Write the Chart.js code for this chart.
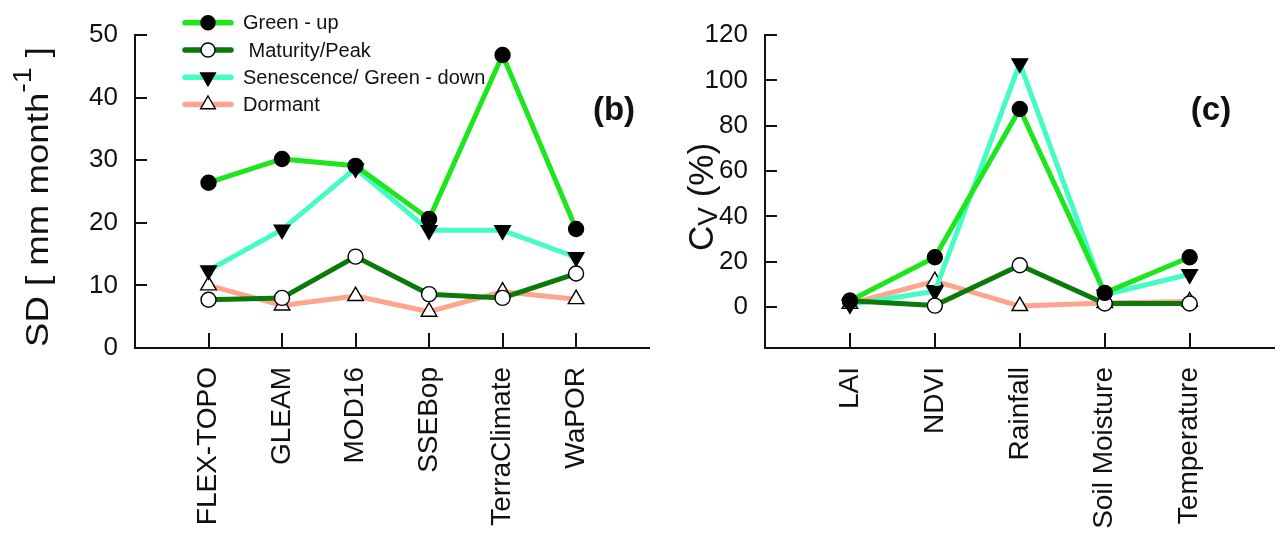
<!DOCTYPE html>
<html><head><meta charset="utf-8">
<script src="https://cdn.jsdelivr.net/npm/chart.js@4.4.0/dist/chart.umd.min.js"></script>
<style>
html,body{margin:0;padding:0;background:#fff;width:1285px;height:539px;overflow:hidden}
#wrapB{position:absolute;left:0;top:0;width:660px;height:539px}
#wrapC{position:absolute;left:640px;top:0;width:645px;height:539px}
canvas{display:block}
</style></head><body>
<div id="wrapB"><canvas id="cb" width="660" height="539"></canvas></div>
<div id="wrapC"><canvas id="cc" width="645" height="539"></canvas></div>
<script>
// ---------- data ----------
const seriesNames = ['Green - up', ' Maturity/Peak', 'Senescence/ Green - down', 'Dormant'];

const productsB   = ['FLEX-TOPO', 'GLEAM', 'MOD16', 'SSEBop', 'TerraClimate', 'WaPOR'];
const greenUpB    = [26.4, 30.2, 29.1, 20.6, 46.8, 19.0];
const maturityB   = [7.7, 8.0, 14.6, 8.6, 8.0, 11.9];
const senescenceB = [12.4, 18.9, 28.7, 18.8, 18.8, 14.5];
const dormantB    = [10.0, 6.8, 8.3, 5.8, 9.0, 7.8];
const yTicksB     = [0, 10, 20, 30, 40, 50];

const driversC    = ['LAI', 'NDVI', 'Rainfall', 'Soil Moisture', 'Temperature'];
const greenUpC    = [2.8, 22.0, 87.4, 6.3, 22.0];
const maturityC   = [2.8, 0.7, 18.5, 1.6, 1.6];
const senescenceC = [1.2, 7.0, 107.5, 5.5, 14.5];
const dormantC    = [1.5, 11.5, 0.5, 1.8, 2.5];
const yTicksC     = [0, 20, 40, 60, 80, 100, 120];

// ---------- styles ----------
const FONT = '"Liberation Sans", Arial, Helvetica, sans-serif';
const INK = '#111';
const styles = [
  {color:'#1ee61e', point:'circle',   fill:'#000', rot:0,   r:7.5},
  {color:'#0a7a0a', point:'circle',   fill:'#fff', rot:0,   r:7.5},
  {color:'#45fcc5', point:'triangle', fill:'#000', rot:180, r:9},
  {color:'#ffa58f', point:'triangle', fill:'#fff', rot:0,   r:9}
];

function ds(i, vals){
  const s = styles[i];
  return {
    label: seriesNames[i],
    data: vals.map((v,k)=>({x:k, y:v})),
    borderColor: s.color, borderWidth: 5, borderJoinStyle:'round',
    backgroundColor: s.fill,
    pointBackgroundColor: s.fill, pointBorderColor:'#000', pointBorderWidth:1.4,
    pointStyle: s.point, pointRotation: s.rot, pointRadius: s.r,
    tension: 0, clip: false
  };
}

function makeOptions(cfg){
  return {
    responsive:false, animation:false, events:[],
    layout:{padding:{top:cfg.top, right:cfg.right, left:0, bottom:0}},
    plugins:{legend:{display:false}, tooltip:{enabled:false}},
    scales:{
      x:{
        type:'linear', min:-1, max:cfg.xmax,
        grid:{display:false, drawTicks:false},
        border:{display:true, color:INK, width:2},
        afterBuildTicks: s => { s.ticks = cfg.cats.map((c,i)=>({value:i})); },
        afterFit: s => { s.height = cfg.xh; },
        ticks:{autoSkip:false, minRotation:90, maxRotation:90, padding:cfg.xpad,
               color:INK, font:{family:FONT, size:cfg.xfs},
               callback: v => cfg.cats[v]}
      },
      y:{
        type:'linear', min:cfg.ymin, max:cfg.ymax,
        grid:{display:false, drawTicks:false},
        border:{display:true, color:INK, width:2},
        afterBuildTicks: s => { s.ticks = cfg.yticks.map(v=>({value:v})); },
        afterFit: s => { s.width = cfg.yw; },
        ticks:{padding:cfg.ypad, color:INK, font:{family:FONT, size:cfg.yfs}}
      }
    }
  };
}

// inward tick marks
const tickMarks = {
  id:'tickMarks',
  beforeDatasetsDraw(chart){
    const {ctx, chartArea:a, scales:{x,y}} = chart;
    ctx.save(); ctx.strokeStyle = INK; ctx.lineWidth = 2;
    y.ticks.forEach(t=>{
      const py = Math.round(y.getPixelForValue(t.value));
      ctx.beginPath(); ctx.moveTo(a.left, py); ctx.lineTo(a.left+12, py); ctx.stroke();
    });
    x.ticks.forEach(t=>{
      const px = Math.round(x.getPixelForValue(t.value));
      ctx.beginPath(); ctx.moveTo(px, a.bottom); ctx.lineTo(px, a.bottom-15); ctx.stroke();
    });
    ctx.restore();
  }
};

function drawMarker(ctx, s, x, y){
  ctx.save();
  ctx.fillStyle = s.fill; ctx.strokeStyle = '#000'; ctx.lineWidth = 1.4;
  ctx.beginPath();
  if (s.point === 'circle'){
    ctx.arc(x, y, s.r, 0, Math.PI*2);
  } else {
    const r = s.r, rot = s.rot*Math.PI/180;
    for (let k=0;k<3;k++){
      const a = rot + k*2*Math.PI/3;
      const px = x + Math.sin(a)*r, py = y - Math.cos(a)*r;
      if (k===0) ctx.moveTo(px,py); else ctx.lineTo(px,py);
    }
    ctx.closePath();
  }
  ctx.fill(); ctx.stroke();
  ctx.restore();
}

function drawRotated(ctx, parts, baseX, startY, targetLen){
  ctx.save();
  ctx.translate(baseX, startY); ctx.rotate(-Math.PI/2);
  let total = 0;
  parts.forEach(p=>{ ctx.font = p.font; p.w = ctx.measureText(p.text).width; total += p.w; });
  if (targetLen) ctx.scale(targetLen/total, 1);
  ctx.fillStyle = INK; ctx.textAlign = 'left'; ctx.textBaseline = 'alphabetic';
  let cx = 0;
  parts.forEach(p=>{ ctx.font = p.font; ctx.fillText(p.text, cx, p.dy||0); cx += p.w; });
  ctx.restore();
}

const decorB = {
  id:'decorB',
  afterDraw(chart){
    const ctx = chart.ctx;
    // legend
    const rows = [22.7, 50, 77.3, 104.5];
    chart.data.datasets.forEach((d,i)=>{
      const s = styles[i], y = rows[i];
      ctx.save();
      ctx.strokeStyle = s.color; ctx.lineWidth = 5.5; ctx.lineCap = 'round';
      ctx.beginPath(); ctx.moveTo(185, y); ctx.lineTo(231, y); ctx.stroke();
      ctx.restore();
      drawMarker(ctx, {...s, r: s.point==='circle' ? 7 : 8.5}, 208, y);
      ctx.save();
      ctx.fillStyle = INK; ctx.font = '20px ' + FONT; ctx.textBaseline = 'middle'; ctx.textAlign = 'left';
      ctx.fillText(d.label, 243, y+1);
      ctx.restore();
    });
    // axis title
    drawRotated(ctx, [
      {text:'SD [ mm month', font:'32px '+FONT},
      {text:'-1', font:'25px '+FONT, dy:-17},
      {text:' ]', font:'32px '+FONT}
    ], 48, 347, 300);
    // panel label
    ctx.save();
    ctx.fillStyle = INK; ctx.font = 'bold 33px ' + FONT; ctx.textAlign = 'center'; ctx.textBaseline = 'middle';
    ctx.fillText('(b)', 614, 111);
    ctx.restore();
  }
};

const decorC = {
  id:'decorC',
  afterDraw(chart){
    const ctx = chart.ctx;
    drawRotated(ctx, [
      {text:'C', font:'35px '+FONT},
      {text:'V', font:'28px '+FONT, dy:4},
      {text:' (%)', font:'35px '+FONT}
    ], 73, 251);
    ctx.save();
    ctx.fillStyle = INK; ctx.font = 'bold 33px ' + FONT; ctx.textAlign = 'center'; ctx.textBaseline = 'middle';
    ctx.fillText('(c)', 571, 111);
    ctx.restore();
  }
};

new Chart(document.getElementById('cb'), {
  type:'line',
  data:{datasets:[ds(0,greenUpB), ds(1,maturityB), ds(2,senescenceB), ds(3,dormantB)]},
  options: makeOptions({top:35, right:2, xmax:productsB.length, cats:productsB, xh:191, xpad:19, xfs:28,
                        ymin:0, ymax:50, yticks:yTicksB, yw:135, ypad:17, yfs:26}),
  plugins:[tickMarks, decorB]
});

new Chart(document.getElementById('cc'), {
  type:'line',
  data:{datasets:[ds(0,greenUpC), ds(1,maturityC), ds(2,senescenceC), ds(3,dormantC)]},
  options: makeOptions({top:35, right:0, xmax:driversC.length, cats:driversC, xh:191, xpad:19, xfs:28,
                        ymin:-18, ymax:120, yticks:yTicksC, yw:125, ypad:17, yfs:26}),
  plugins:[tickMarks, decorC]
});
</script>
</body></html>
